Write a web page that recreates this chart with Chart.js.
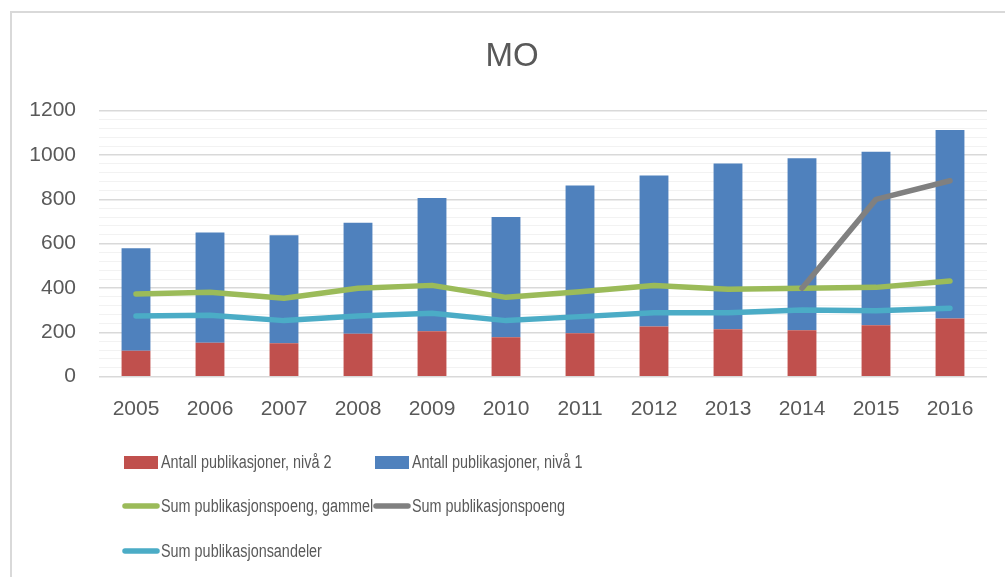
<!DOCTYPE html>
<html>
<head>
<meta charset="utf-8">
<title>MO</title>
<script src="https://cdn.jsdelivr.net/npm/chart.js@4/dist/chart.umd.min.js"></script>
<style>
  html, body { margin: 0; padding: 0; background: #fff; }
  #wrap { position: relative; width: 1005px; height: 577px; overflow: hidden; }
  #frame { position: absolute; left: 10px; top: 11px; width: 1100px; height: 700px;
           border: 2px solid #d9d9d9; box-sizing: border-box; }
  #chart { position: absolute; left: 0; top: 0; }
</style>
</head>
<body>
<div id="wrap">
  <div id="frame"></div>
  <canvas id="chart" width="1005" height="577"></canvas>
</div>
<script>
// data
const years = ["2005", "2006", "2007", "2008", "2009", "2010", "2011", "2012", "2013", "2014", "2015", "2016"];
const nivaa2 = [117, 153, 151, 194, 205, 178, 196, 226, 214, 209, 232, 262];
const nivaa1 = [462, 497, 487, 501, 601, 542, 666, 682, 748, 776, 783, 851];
const poengGammel = [373, 381, 354, 399, 412, 358, 383, 411, 394, 399, 403, 432];
const poeng = [null, null, null, null, null, null, null, null, null, 399, 800, 884];
const andeler = [274, 277, 253, 274, 286, 253, 271, 289, 289, 301, 298, 309];

const yMax = 1200;
const yStep = 40;
const yLabelStep = 200;

const TEXT = "#595959";
const FONT = '"Liberation Sans", Arial, sans-serif';

// title and two-column legend drawn on the canvas, like the original
const titleAndLegend = {
  id: "titleAndLegend",
  afterDraw(chart) {
    const ctx = chart.ctx;
    ctx.save();
    ctx.fillStyle = TEXT;
    ctx.textBaseline = "middle";
    ctx.textAlign = "center";
    ctx.font = "33px " + FONT;
    ctx.fillText("MO", 512, 57);

    const cols = [123, 374];
    const rows = [462.5, 506, 551];
    ctx.font = "18px " + FONT;
    ctx.textAlign = "left";
    chart.data.datasets.forEach(function (ds, i) {
      const x = cols[i % 2];
      const y = rows[Math.floor(i / 2)];
      if (ds.type === "line") {
        ctx.strokeStyle = ds.borderColor;
        ctx.lineWidth = 5.5;
        ctx.lineCap = "round";
        ctx.beginPath();
        ctx.moveTo(x + 2, y);
        ctx.lineTo(x + 34, y);
        ctx.stroke();
      } else {
        ctx.fillStyle = ds.backgroundColor;
        ctx.fillRect(x + 1, y - 6.5, 34, 13);
      }
      ctx.fillStyle = TEXT;
      const w = ctx.measureText(ds.label).width;
      ctx.fillText(ds.label, x + 38, y + 1, w * 0.8);
    });
    ctx.restore();
  },
};

new Chart(document.getElementById("chart"), {
  data: {
    labels: years,
    datasets: [
      {
        type: "bar",
        label: "Antall publikasjoner, nivå 2",
        data: nivaa2,
        backgroundColor: "#C0504D",
        stack: "bars",
        order: 2,
      },
      {
        type: "bar",
        label: "Antall publikasjoner, nivå 1",
        data: nivaa1,
        backgroundColor: "#4F81BD",
        stack: "bars",
        order: 2,
      },
      {
        type: "line",
        label: "Sum publikasjonspoeng, gammel",
        data: poengGammel,
        borderColor: "#9BBB59",
        stack: "l1",
        order: 1,
      },
      {
        type: "line",
        label: "Sum publikasjonspoeng",
        data: poeng,
        borderColor: "#808080",
        stack: "l2",
        order: 0,
      },
      {
        type: "line",
        label: "Sum publikasjonsandeler",
        data: andeler,
        borderColor: "#4BACC6",
        stack: "l3",
        order: 1,
      },
    ],
  },
  options: {
    responsive: false,
    animation: false,
    datasets: {
      bar: {
        barPercentage: 0.39,
        categoryPercentage: 1,
        borderWidth: 0,
      },
      line: {
        borderWidth: 5.5,
        pointRadius: 0,
        pointHoverRadius: 0,
        borderCapStyle: "round",
        borderJoinStyle: "round",
        tension: 0,
        fill: false,
      },
    },
    layout: {
      padding: { left: 0, right: 18, top: 110.7, bottom: 160 },
    },
    scales: {
      x: {
        stacked: true,
        grid: { display: false, drawTicks: false },
        border: { display: false },
        ticks: {
          color: TEXT,
          font: { family: FONT, size: 21 },
          padding: 20,
        },
        afterFit: function (scale) {
          scale.height = 40.3;
        },
      },
      y: {
        stacked: true,
        min: 0,
        max: yMax,
        border: { display: false },
        grid: {
          drawTicks: false,
          color: function (c) {
            return c.tick.value % yLabelStep === 0 ? "#d9d9d9" : "#f2f2f2";
          },
          lineWidth: function (c) {
            return c.tick.value % yLabelStep === 0 ? 1.5 : 1;
          },
        },
        ticks: {
          stepSize: yStep,
          autoSkip: false,
          color: TEXT,
          font: { family: FONT, size: 21 },
          padding: 23,
          callback: function (value) {
            return value % yLabelStep === 0 ? value : "";
          },
        },
        afterFit: function (scale) {
          scale.width = 99;
        },
      },
    },
    plugins: {
      legend: { display: false },
      tooltip: { enabled: false },
      title: { display: false },
    },
  },
  plugins: [titleAndLegend],
});
</script>
</body>
</html>
